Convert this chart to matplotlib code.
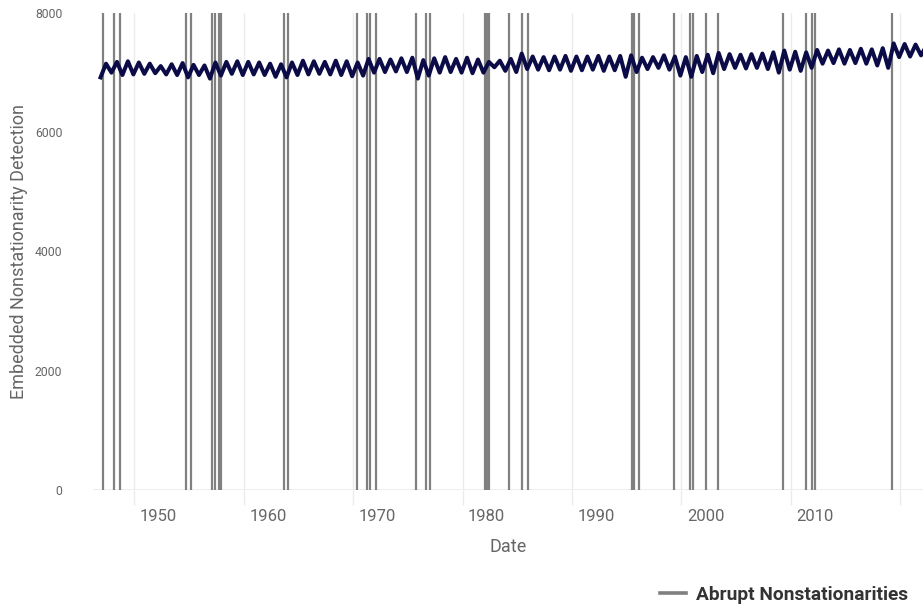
import matplotlib
matplotlib.use("Agg")
import matplotlib.pyplot as plt
from matplotlib.ticker import FixedLocator, NullFormatter

plt.rcParams["font.family"] = ["Roboto", "DejaVu Sans"]

# Seasonal extremes of the detection statistic, one trough and one peak per year
years = list(range(1945, 2021))
troughs = [
    6920, 7000, 6960, 6970, 6980, 6990, 6970, 6960, 6920, 6960,
    6900, 6950, 6980, 6960, 6970, 6960, 6930, 6920, 6960, 6970,
    6980, 6970, 6960, 6940, 6950, 7000, 7010, 7020, 7010, 6900,
    6950, 7000, 7010, 7000, 6990, 7000, 7090, 7030, 7010, 7060,
    7050, 7040, 7050, 7030, 7040, 7050, 7030, 7040, 6930, 7010,
    7060, 7080, 7050, 6950, 6930, 7010, 6990, 7060, 7080, 7070,
    7080, 7060, 7000, 7050, 7030, 7080, 7150, 7160, 7150, 7160,
    7150, 7120, 7080, 7260, 7270, 7290,
]
peaks = [
    7150, 7180, 7190, 7170, 7150, 7110, 7140, 7160, 7130, 7120,
    7170, 7180, 7190, 7180, 7170, 7150, 7140, 7170, 7200, 7190,
    7180, 7200, 7190, 7170, 7230, 7230, 7220, 7240, 7250, 7210,
    7240, 7260, 7230, 7250, 7220, 7180, 7200, 7230, 7320, 7270,
    7260, 7270, 7280, 7270, 7270, 7280, 7270, 7280, 7290, 7250,
    7260, 7290, 7270, 7260, 7280, 7300, 7330, 7310, 7300, 7310,
    7320, 7340, 7370, 7350, 7340, 7380, 7370, 7390, 7380, 7400,
    7390, 7410, 7490, 7480, 7470, 7450,
]

# Dates of the detected abrupt nonstationarities (decimal years)
breaks = [
    1944.93, 1945.93, 1946.48, 1952.51, 1952.97, 1954.89, 1955.16, 1955.53,
    1955.71, 1961.47, 1961.84, 1968.14, 1969.06, 1969.33, 1969.88, 1973.54,
    1974.45, 1974.82, 1979.84, 1980.03, 1980.21, 1982.04, 1983.23, 1983.78,
    1993.28, 1993.46, 1993.92, 1997.12, 1998.58, 1998.86, 2000.05, 2001.14,
    2007.08, 2009.19, 2009.73, 2010.01, 2017.05,
]

tick_years = [1950, 1960, 1970, 1980, 1990, 2000, 2010]
grid_years = [1947.8, 1957.8, 1967.8, 1977.8, 1987.8, 1997.8, 2007.8, 2017.8]

# interleave trough (late in the previous year) and peak (early in the year)
t, v = [], []
for yr, lo, hi in zip(years, troughs, peaks):
    t += [yr - 0.3, yr + 0.2]
    v += [lo, hi]

W, H = 923, 608
fig = plt.figure(figsize=(W / 100, H / 100), dpi=100)
ax = fig.add_axes([93 / W, (H - 490) / H, (923 - 93) / W, (490 - 13) / H])

for i, b in enumerate(breaks):
    ax.axvline(b, color="#808080", lw=1.6, zorder=2,
               label="Abrupt Nonstationarities" if i == 0 else None)
ax.plot(t, v, color="#0b0b47", lw=2.9, zorder=3, solid_joinstyle="round")

ax.set_xlim(1944.01, 2019.88)
ax.set_ylim(0, 8000)

for s in ax.spines.values():
    s.set_visible(False)
ax.axhline(0, color="#ebebeb", lw=1.2, zorder=1)

ax.xaxis.set_major_locator(FixedLocator(tick_years))
ax.xaxis.set_minor_locator(FixedLocator(grid_years))
ax.xaxis.set_minor_formatter(NullFormatter())
ax.tick_params(axis="x", which="major", length=0, pad=14, labelsize=12, labelcolor="#666666")
ax.tick_params(axis="x", which="minor", length=11, width=1, color="#ebebeb")
ax.grid(True, axis="x", which="minor", color="#ebebeb", lw=1, zorder=0)
ax.grid(False, axis="x", which="major")

ax.set_yticks([0, 2000, 4000, 6000, 8000])
ax.tick_params(axis="y", length=0, pad=22, labelsize=8.8, labelcolor="#666666")

ax.set_xlabel("Date", fontsize=13, color="#666666", labelpad=10)
ax.set_ylabel("Embedded Nonstationarity Detection", fontsize=13, color="#666666", labelpad=5)

handles, labels = ax.get_legend_handles_labels()
leg = fig.legend(handles, labels, loc="center right",
                 bbox_to_anchor=(925 / W, 1 - 595 / H), frameon=False,
                 handlelength=1.35, handletextpad=0.5,
                 prop={"weight": "bold", "size": 13.8})
for line in leg.get_lines():
    line.set_linewidth(2.6)
for txt in leg.get_texts():
    txt.set_color("#333333")

fig.savefig("out.png", dpi=100)
